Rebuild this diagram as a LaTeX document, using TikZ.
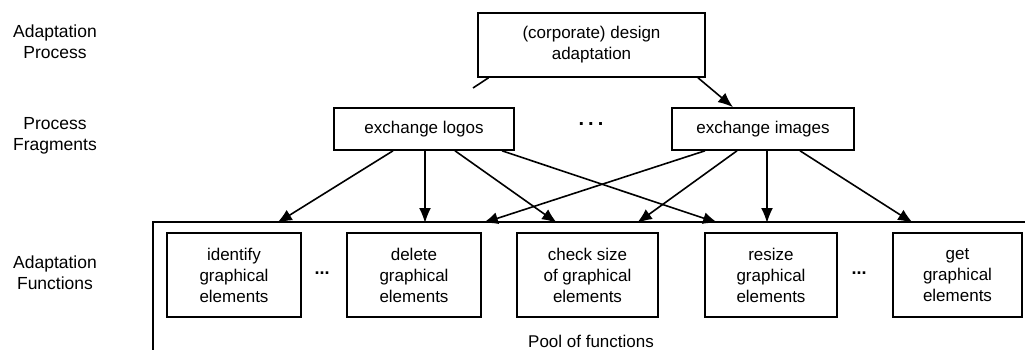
\documentclass[tikz,border=0pt]{standalone}
\usepackage{fontspec}
\setmainfont{Liberation Sans}
\usetikzlibrary{arrows.meta}

\tikzset{
    box/.style={draw, line width=1.6pt, inner sep=0pt, align=center,
        font=\fontsize{17}{21}\selectfont},
    rowlabel/.style={align=center, font=\fontsize{17.5}{21}\selectfont},
    link/.style={line width=1.6pt, -{Latex[length=15pt,width=12pt]}}
}

\begin{document}
\begin{tikzpicture}[x=1pt, y=-1pt]

    \useasboundingbox (0,0) rectangle (1025,350);

    % ==========================================
    % ROW LABELS
    % ==========================================
    \node[rowlabel] (lproc) at (55,42) {Adaptation\\Process};
    \node[rowlabel] (lfrag) at (55,136) {Process\\Fragments};
    \node[rowlabel] (lfunc) at (55,273) {Adaptation\\Functions};

    % ==========================================
    % PROCESS AND FRAGMENTS
    % ==========================================
    \node[box, minimum width=227, minimum height=64] (design) at (591.5,45)
        {(corporate) design\\adaptation};

    \node[box, minimum width=180, minimum height=42] (logos) at (424,129) {exchange logos};
    \node[box, minimum width=182, minimum height=42] (images) at (763,129) {exchange images};
    \node[font=\fontsize{20}{21}\selectfont\bfseries] (fragdots) at (591,124)
        {.\hspace{4pt}.\hspace{4pt}.};

    % ==========================================
    % POOL OF FUNCTIONS
    % ==========================================
    \coordinate (poolbl) at (153,352);
    \coordinate (pooltl) at (153,222);
    \coordinate (pooltr) at (1027,222);
    \draw[line width=1.6pt] (poolbl) -- (pooltl) -- (pooltr);
    \node[font=\fontsize{17}{21}\selectfont] (poolname) at (591,341) {Pool of functions};

    \node[box, minimum width=134, minimum height=84] (identify) at (234,275)
        {identify\\graphical\\elements};
    \node[box, minimum width=134, minimum height=84] (delete) at (414,275)
        {delete\\graphical\\elements};
    \node[box, minimum width=141, minimum height=84] (check) at (587.5,275)
        {check size\\of graphical\\elements};
    \node[box, minimum width=132, minimum height=84] (resize) at (771,275)
        {resize\\graphical\\elements};
    \node[box, minimum width=129, minimum height=84] (get) at (957.5,275)
        {get\\graphical\\elements};

    \node[font=\fontsize{18}{21}\selectfont\bfseries] (dotsa) at (322,273) {...};
    \node[font=\fontsize{18}{21}\selectfont\bfseries] (dotsb) at (859,273) {...};

    % ==========================================
    % CONNECTORS
    % ==========================================
    % entry points on the top of the pool
    \coordinate (inidentify) at (277,223);
    \coordinate (indelete) at (425,223);
    \coordinate (incheckl) at (557,223);
    \coordinate (incheckr) at (637,223);
    \coordinate (inresizel) at (718,223);
    \coordinate (inresize) at (767,223);
    \coordinate (indeletr) at (483,223);
    \coordinate (inget) at (913,223);

    % design adaptation down to the fragments
    \coordinate (stub) at (473,88);
    \draw[line width=1.6pt] ([xshift=-103]design.south) -- (stub);
    \draw[link] ([xshift=106.5]design.south) -- ([xshift=-30]images.north);

    % exchange logos
    \draw[link] ([xshift=-31]logos.south) -- (inidentify);
    \draw[link] ([xshift=1]logos.south) -- (indelete);
    \draw[link] ([xshift=31]logos.south) -- (incheckl);
    \draw[link] ([xshift=78]logos.south) -- (inresizel);

    % exchange images
    \draw[link] ([xshift=-58]images.south) -- (indeletr);
    \draw[link] ([xshift=-26]images.south) -- (incheckr);
    \draw[link] ([xshift=4]images.south) -- (inresize);
    \draw[link] ([xshift=37]images.south) -- (inget);

\end{tikzpicture}
\end{document}
